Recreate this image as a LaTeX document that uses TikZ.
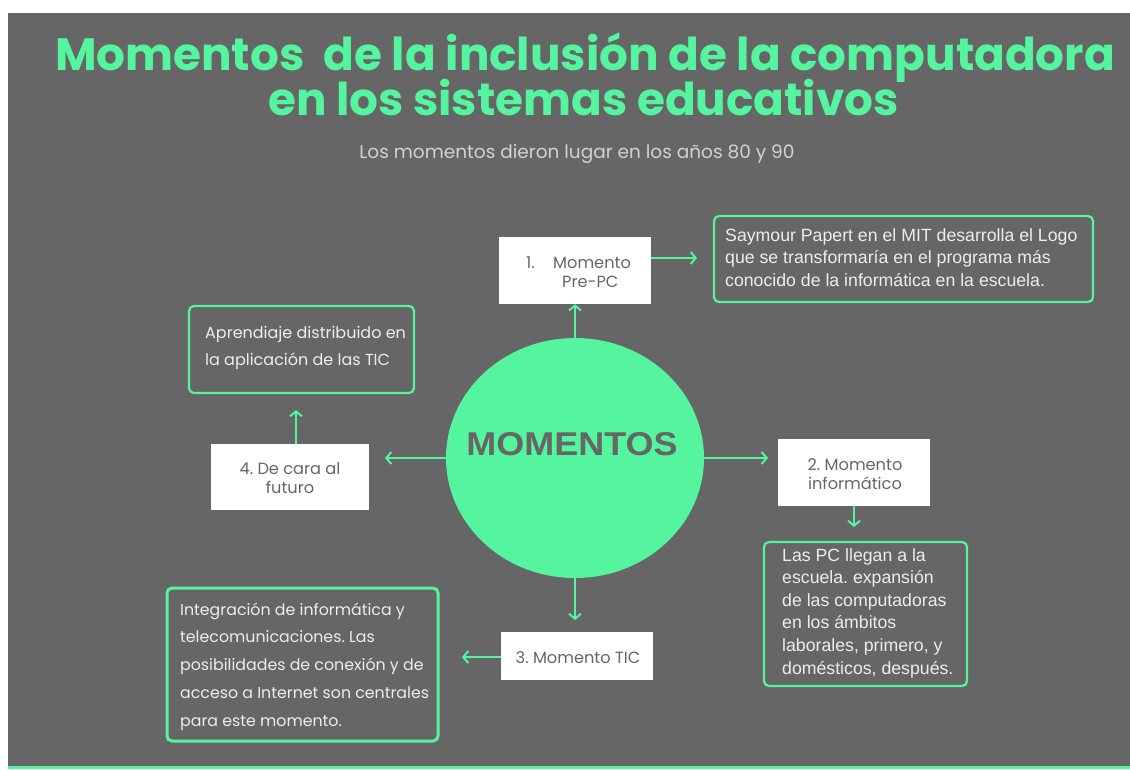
\documentclass[tikz,border=0pt]{standalone}
\usepackage{fontspec}
\usetikzlibrary{arrows.meta,shapes.geometric}
\newfontfamily\popfont{Poppins}
\newfontfamily\arialfont{Liberation Sans}
\definecolor{bggray}{HTML}{666666}
\definecolor{mint}{HTML}{55F5A0}
\definecolor{boxtext}{HTML}{666666}
\definecolor{lighttext}{HTML}{EDEDED}
\definecolor{subtext}{HTML}{D2D2D2}
\frenchspacing
\tikzset{
  arr/.style={draw=mint, line width=2pt, -{Straight Barb[length=5pt,width=12pt,line width=2pt]}},
  whitebox/.style={fill=white, draw=none, minimum width=#1, inner sep=0pt},
  greenbox/.style={draw=mint, line width=2.2pt, rounded corners=5pt, inner sep=0pt},
  wtext/.style={text=boxtext, inner sep=0pt, font=\popfont\fontsize{16.2}{19}\selectfont},
  ltext/.style={text=lighttext, inner sep=0pt, anchor=base west},
}
\begin{document}
\begin{tikzpicture}[x=1pt,y=-1pt]
\useasboundingbox (0,0) rectangle (1130,769);
\fill[white] (0,0) rectangle (1130,769);
\fill[bggray] (8,13) rectangle (1130,766);
\fill[mint] (8,766) rectangle (1130,769);

% title
\node[anchor=base, inner sep=0pt, text=mint, font=\popfont\bfseries\fontsize{45.3}{50}\selectfont] (title1) at (585,70) {Momentos\ \ de la inclusión de la computadora};
\node[anchor=base, inner sep=0pt, text=mint, font=\popfont\bfseries\fontsize{45.3}{50}\selectfont] (title2) at (583.5,115) {en los sistemas educativos};
\node[anchor=base, inner sep=0pt, text=subtext, font=\popfont\fontsize{18.5}{22}\selectfont] (sub) at (577,158) {Los momentos dieron lugar en los años 80 y 90};

% central circle
\node[ellipse, fill=mint, minimum width=258pt, minimum height=240pt, inner sep=0pt] (c) at (575,458) {};
\node[anchor=base, inner sep=0pt, text=bggray, font=\arialfont\bfseries\fontsize{33}{38}\selectfont] (cm) at (572,455) {\scalebox{1.09}[1]{MOMENTOS}};

% box 1
\node[whitebox=152pt, minimum height=67pt] (b1) at (575,270.5) {};
\node[wtext, anchor=base west] (b1a) at (526,268) {1.};
\node[wtext, anchor=base west] (b1b) at (553,268) {Momento};
\node[wtext, anchor=base west] (b1c) at (562,287) {Pre-PC};

% Papert box
\node[greenbox, minimum width=379pt, minimum height=86pt] (pap) at (903.5,259) {};
\begin{scope}[font=\arialfont\fontsize{17.7}{21}\selectfont]
\foreach \t [count=\i] in {Saymour Papert en el MIT desarrolla el Logo,que se transformaría en el programa más,conocido de la informática en la escuela.}
  \node[ltext] (pap\i) at (725,{241+22.5*(\i-1)}) {\t};
\end{scope}

% Aprendiaje box
\node[greenbox, minimum width=225pt, minimum height=87pt] (apr) at (301.5,349.5) {};
\begin{scope}[font=\popfont\fontsize{16}{19}\selectfont]
\node[ltext] (apr1) at (205,338) {Aprendiaje distribuido en};
\node[ltext] (apr2) at (205,365.5) {la aplicación de las TIC};
\end{scope}

% box 4
\node[whitebox=158pt, minimum height=66pt] (b4) at (290,477) {};
\node[wtext, anchor=base] (b4a) at (290,474) {4. De cara al};
\node[wtext, anchor=base] (b4b) at (290,493) {futuro};

% box 2
\node[whitebox=152pt, minimum height=67pt] (b2) at (854,472.5) {};
\node[wtext, anchor=base] (b2a) at (855,470) {2. Momento};
\node[wtext, anchor=base] (b2b) at (855,489) {informático};

% Las PC box
\node[greenbox, minimum width=203pt, minimum height=144pt] (lpc) at (865.5,614) {};
\begin{scope}[font=\arialfont\fontsize{17.7}{21}\selectfont]
\foreach \t [count=\i] in {Las PC llegan a la,escuela. expansión,de las computadoras,en los ámbitos,{laborales, primero, y},{domésticos, después.}}
  \node[ltext] (lpc\i) at (782,{561+22.6*(\i-1)}) {\t};
\end{scope}

% box 3
\node[whitebox=152pt, minimum height=48pt] (b3) at (577,656) {};
\node[wtext, anchor=base] (b3a) at (578,663) {3. Momento TIC};

% Integracion box
\node[greenbox, line width=3pt, minimum width=271pt, minimum height=153pt] (int) at (302.5,664.5) {};
\begin{scope}[font=\popfont\fontsize{15.8}{19}\selectfont]
\foreach \t [count=\i] in {Integración de informática y,telecomunicaciones. Las,posibilidades de conexión y de,acceso a Internet son centrales,para este momento.}
  \node[ltext] (int\i) at (180,{615+27.75*(\i-1)}) {\t};
\end{scope}

% connector end points
\coordinate (papin) at (697,258);
\coordinate (aprin) at (296,410);
\coordinate (leftin) at (385,458);
\coordinate (rightin) at (768,458);
\coordinate (lpcin) at (854,527);
\coordinate (b3in) at (575,620);
\coordinate (intin) at (462,657);

% connectors
\draw[arr] (c.north) -- (b1.south);
\draw[arr] (b1.east |- papin) -- (papin);
\draw[arr] (c.west) -- (leftin);
\draw[arr] (c.east) -- (rightin);
\draw[arr] (b2.south) -- (lpcin);
\draw[arr] (c.south) -- (b3in);
\draw[arr] (b3.west |- intin) -- (intin);
\draw[arr] (b4.north -| aprin) -- (aprin);
\end{tikzpicture}
\end{document}
